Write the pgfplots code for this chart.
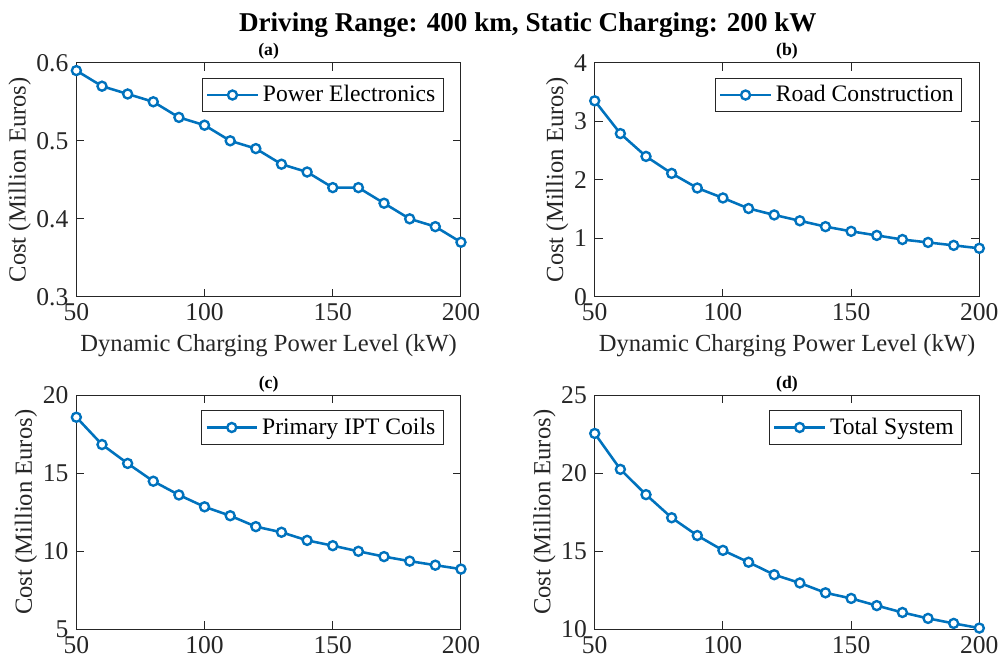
\documentclass[border=0pt]{standalone}
\usepackage{fontspec}
\setmainfont{Liberation Serif}
\usepackage{pgfplots}
\usepackage{pgfplotstable}
\pgfplotsset{compat=1.18}
\usepgfplotslibrary{groupplots}
\usetikzlibrary{calc}

\definecolor{mblue}{RGB}{0,114,189}
\definecolor{axgray}{RGB}{38,38,38}

\pgfplotsset{
  costline/.style={color=mblue, line width=1.3pt, mark=*, mark size=2.3pt,
    mark options={fill=white, draw=mblue, line width=1.2pt}},
}

\pgfplotstableread{
x   pe   road  ipt    total
50  0.59 3.35  18.59  22.55
60  0.57 2.79  16.84  20.25
70  0.56 2.40  15.63  18.63
80  0.55 2.11  14.49  17.15
90  0.53 1.86  13.61  16.01
100 0.52 1.69  12.85  15.06
110 0.50 1.51  12.28  14.30
120 0.49 1.40  11.58  13.50
130 0.47 1.30  11.22  12.97
140 0.46 1.20  10.70  12.34
150 0.44 1.12  10.36  11.98
160 0.44 1.05  10.00  11.52
170 0.42 0.98  9.66   11.08
180 0.40 0.93  9.37   10.70
190 0.39 0.88  9.11   10.38
200 0.37 0.83  8.86   10.08
}\data

\begin{document}
\begin{tikzpicture}
\begin{groupplot}[
  group style={group size=2 by 2, horizontal sep=68pt, vertical sep=50pt},
  width=195.5pt, height=119pt, scale only axis,
  xmin=50, xmax=200, xtick={50,100,150,200},
  tick align=inside, xtick pos=both, ytick pos=both,
  major tick length=4pt,
  axis line style={axgray, line width=0.5pt},
  every tick/.style={axgray, line width=0.5pt},
  tick label style={font=\fontsize{13}{13}\selectfont, text=axgray},
  yticklabel style={xshift=-0.5pt},
  /pgf/number format/assume math mode=true,
  label style={font=\fontsize{12.5}{13}\selectfont, text=axgray},
  ylabel={Cost (Million Euros)},
  ylabel style={yshift=-4pt},
  title style={font=\bfseries\fontsize{9}{9}\selectfont, yshift=-8pt},
  legend style={at={(0.955,0.935)}, anchor=north east, draw=axgray, line width=0.5pt,
    font=\fontsize{12}{13}\selectfont, inner xsep=2pt, inner ysep=1.5pt},
  legend cell align=left,
  legend image code/.code={\draw[mark repeat=2,mark phase=2] plot coordinates {(0cm,0cm)(0.45cm,0cm)(0.9cm,0cm)};},
]
\nextgroupplot[title={(a)}, ymin=0.3, ymax=0.6, ytick={0.3,0.4,0.5,0.6},
  yticklabel style={/pgf/number format/.cd, fixed, precision=1},
  xlabel={Dynamic Charging Power Level (kW)}]
\addplot[costline] table[x=x, y=pe] {\data};
\addlegendentry{Power Electronics}

\nextgroupplot[title={(b)}, ymin=0, ymax=4, ytick={0,1,2,3,4},
  xlabel={Dynamic Charging Power Level (kW)}]
\addplot[costline] table[x=x, y=road] {\data};
\addlegendentry{Road Construction}

\nextgroupplot[title={(c)}, ymin=5, ymax=20, ytick={5,10,15,20}]
\addplot[costline] table[x=x, y=ipt] {\data};
\addlegendentry{Primary IPT Coils}

\nextgroupplot[title={(d)}, ymin=10, ymax=25, ytick={10,15,20,25}]
\addplot[costline] table[x=x, y=total] {\data};
\addlegendentry{Total System}
\end{groupplot}
\node[anchor=base, font=\bfseries\fontsize{13.8}{14}\selectfont, text=black]
  at ($(group c1r1.north west)!0.5!(group c2r1.north east)+(0,16pt)$)
  {Driving Range: 400 km, Static Charging: 200 kW};
\path ($(current bounding box.south west)+(-1pt,-5pt)$) ($(current bounding box.north east)+(1.5pt,3pt)$);
\end{tikzpicture}
\end{document}
